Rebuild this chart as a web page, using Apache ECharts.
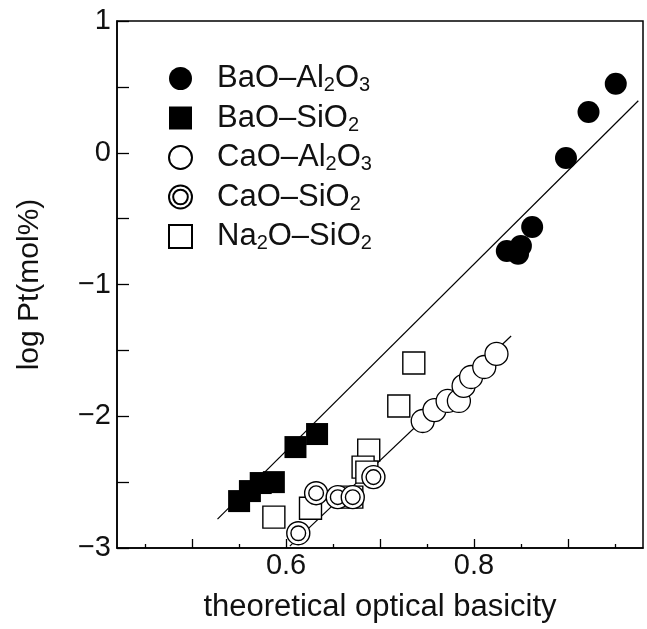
<!DOCTYPE html>
<html><head><meta charset="utf-8">
<script src="https://cdn.jsdelivr.net/npm/echarts@6/dist/echarts.min.js"></script>
<style>html,body{margin:0;padding:0;background:#fff}#c{width:647px;height:629px}</style>
</head><body><div id="c"></div>
<script>
const baoAl2o3 = [[0.951,0.524],[0.922,0.31],[0.898,-0.04],[0.862,-0.563],[0.850,-0.707],[0.835,-0.745],[0.847,-0.767]];
const baoSio2 = [[0.550,-2.644],[0.5615,-2.568],[0.573,-2.507],[0.587,-2.50],[0.610,-2.234],[0.633,-2.135]];
const caoAl2o3 = [[0.7455,-2.036],[0.758,-1.953],[0.772,-1.884],[0.784,-1.884],[0.789,-1.770],[0.797,-1.702],[0.811,-1.626],[0.824,-1.527]];
const caoSio2 = [[0.613,-2.888],[0.632,-2.584],[0.655,-2.614],[0.671,-2.614],[0.693,-2.462]];
const na2oSio2 = [[0.736,-1.596],[0.720,-1.922],[0.688,-2.257],[0.682,-2.386],[0.686,-2.424],[0.670,-2.614],[0.626,-2.698],[0.587,-2.766]];
const fitBa = [[0.527,-2.781],[0.975,0.395]];
const fitCa = [[0.604,-2.986],[0.8396,-1.391]];
const xMajorTicks = [0.5,0.6,0.7,0.8,0.9];
const xMinorTicks = [0.45,0.55,0.65,0.75,0.85,0.95];
const xLabels = [0.6,0.8];
const legendNames = ['BaO–Al{s|2}O{s|3}','BaO–SiO{s|2}','CaO–Al{s|2}O{s|3}','CaO–SiO{s|2}','Na{s|2}O–SiO{s|2}'];

const FONT = 'Liberation Sans, Arial, sans-serif';
const dbl = 'path://M0,-11A11,11 0 1,1 0,11A11,11 0 1,1 0,-11ZM0,-7A7,7 0 1,1 0,7A7,7 0 1,1 0,-7Z';
const chart = echarts.init(document.getElementById('c'));
const axBase = {type:'value', min:0.42, max:0.98, splitLine:{show:false}};
chart.setOption({
  animation:false,
  backgroundColor:'#fff',
  grid:{left:117,right:4,top:21,bottom:81,show:true,borderColor:'#000',borderWidth:1.5,outerBoundsMode:'none'},
  legend:{
    orient:'vertical', left:163, top:58, itemWidth:23, itemHeight:23, itemGap:7,
    data:legendNames,
    textStyle:{fontFamily:FONT,fontSize:31,color:'#111',padding:[0,0,0,20],
      rich:{s:{fontFamily:FONT,fontSize:20,color:'#111',verticalAlign:'bottom',padding:[14,0,0,0]}}}
  },
  xAxis:[
    Object.assign({}, axBase, {
      position:'bottom',
      axisLine:{show:true,onZero:false,lineStyle:{color:'#000',width:1.5}},
      axisTick:{inside:true,length:9,customValues:xMajorTicks,lineStyle:{color:'#000',width:1.3}},
      axisLabel:{customValues:xLabels,fontFamily:FONT,fontSize:29,color:'#111',margin:3,formatter:v=>v.toFixed(1)},
      name:'theoretical optical basicity', nameLocation:'middle', nameGap:44,
      nameTextStyle:{fontFamily:FONT,fontSize:31,color:'#111'}
    }),
    Object.assign({}, axBase, {
      position:'bottom',
      axisLine:{show:false,onZero:false},
      axisTick:{inside:true,length:4,customValues:xMinorTicks,lineStyle:{color:'#000',width:1.3}},
      axisLabel:{show:false}
    })
  ],
  yAxis:{
    type:'value', min:-3, max:1, interval:0.5, splitLine:{show:false},
    axisLine:{show:true,onZero:false,lineStyle:{color:'#000',width:1.5}},
    axisTick:{inside:true,length:12,lineStyle:{color:'#000',width:1.3}},
    axisLabel:{fontFamily:FONT,fontSize:29,color:'#111',margin:6,
      formatter:v=>Number.isInteger(v)?String(v).replace('-','−'):''},
    name:'log Pt(mol%)', nameLocation:'middle', nameGap:72,
    nameTextStyle:{fontFamily:FONT,fontSize:30,color:'#111'}
  },
  series:[
    {type:'line',data:fitBa,symbol:'none',z:1,lineStyle:{color:'#000',width:1.2},silent:true},
    {type:'line',data:fitCa,symbol:'none',z:1,lineStyle:{color:'#000',width:1.2},silent:true},
    {name:legendNames[4],type:'scatter',data:na2oSio2,symbol:'rect',symbolSize:22,z:2,
      itemStyle:{color:'#fff',borderColor:'#000',borderWidth:1.4,opacity:1}},
    {name:legendNames[3],type:'scatter',data:caoSio2,symbol:dbl,symbolSize:23,z:3,
      itemStyle:{color:'#fff',borderColor:'#000',borderWidth:1.4,opacity:1}},
    {name:legendNames[2],type:'scatter',data:caoAl2o3,symbol:'circle',symbolSize:23,z:4,
      itemStyle:{color:'#fff',borderColor:'#000',borderWidth:1.3,opacity:1}},
    {name:legendNames[1],type:'scatter',data:baoSio2,symbol:'rect',symbolSize:22,z:5,
      itemStyle:{color:'#000',borderColor:'#000',borderWidth:0,opacity:1}},
    {name:legendNames[0],type:'scatter',data:baoAl2o3,symbol:'circle',symbolSize:22,z:6,
      itemStyle:{color:'#000',borderColor:'#000',borderWidth:0,opacity:1}}
  ]
});
</script></body></html>
